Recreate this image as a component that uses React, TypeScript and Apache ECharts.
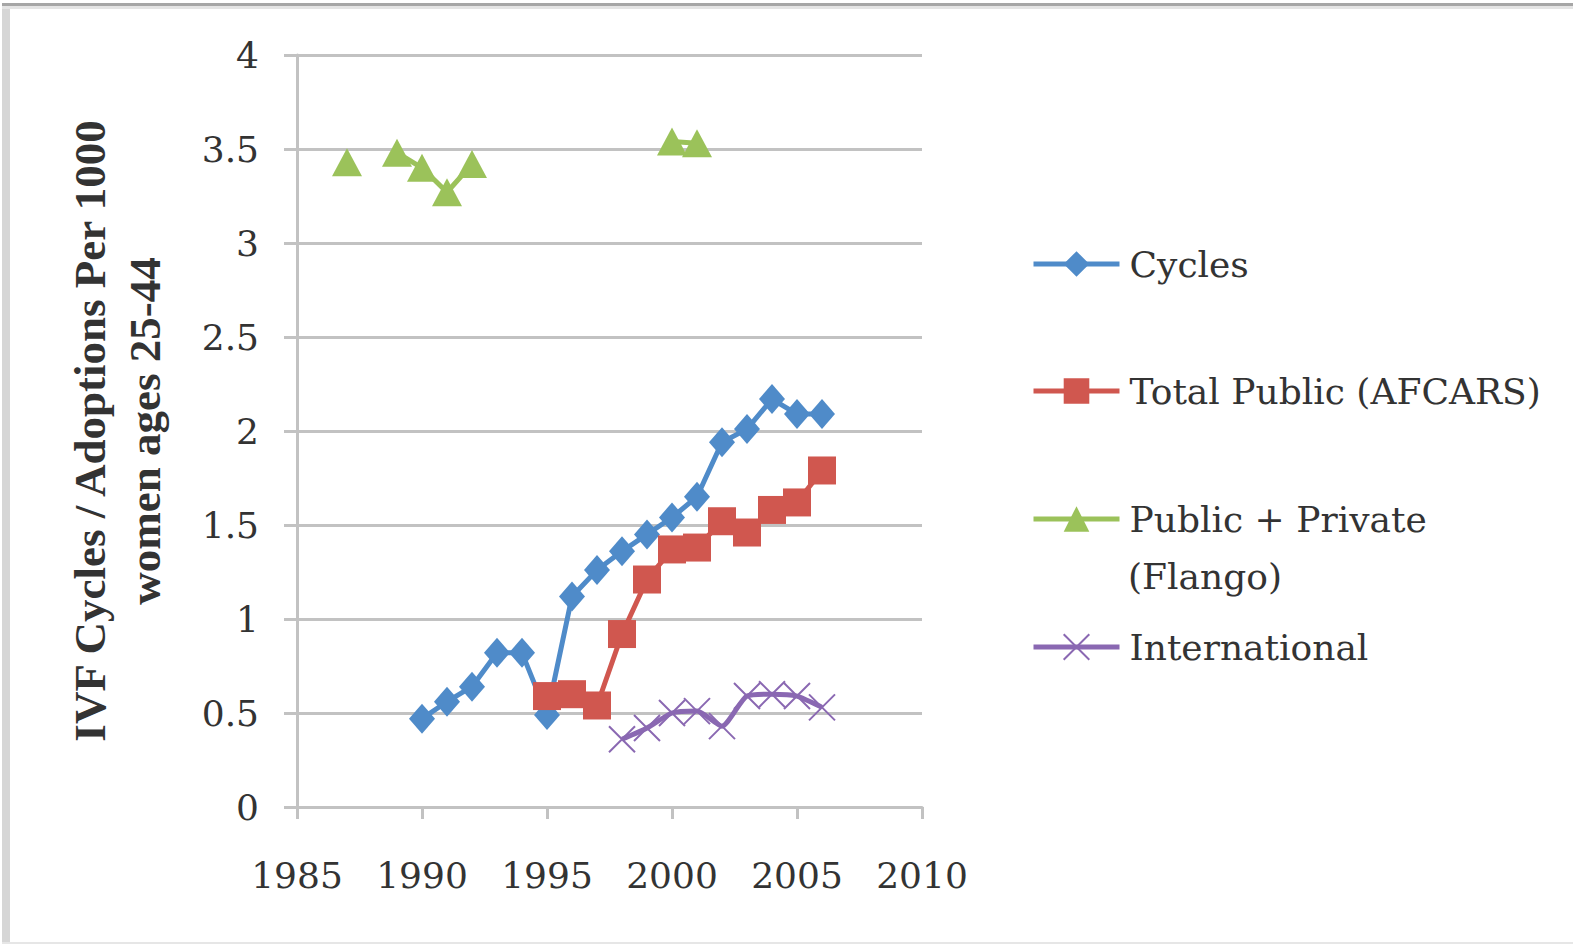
import React, { useEffect, useRef } from "react";
import * as echarts from "echarts";

const cyclesYears = [1990, 1991, 1992, 1993, 1994, 1995, 1996, 1997, 1998, 1999, 2000, 2001, 2002, 2003, 2004, 2005, 2006];
const cyclesValues = [0.47, 0.56, 0.64, 0.82, 0.82, 0.49, 1.12, 1.26, 1.36, 1.45, 1.54, 1.65, 1.94, 2.01, 2.17, 2.09, 2.09];

const publicYears = [1995, 1996, 1997, 1998, 1999, 2000, 2001, 2002, 2003, 2004, 2005, 2006];
const publicValues = [0.59, 0.6, 0.54, 0.92, 1.21, 1.37, 1.38, 1.52, 1.46, 1.58, 1.62, 1.79];

const flangoYears = [1987, 1988, 1989, 1990, 1991, 1992, 1993, 1994, 1995, 1996, 1997, 1998, 1999, 2000, 2001];
const flangoValues = [3.43, null, 3.48, 3.4, 3.27, 3.42, null, null, null, null, null, null, null, 3.54, 3.53];

const intlYears = [1998, 1999, 2000, 2001, 2002, 2003, 2004, 2005, 2006];
const intlValues = [0.36, 0.42, 0.5, 0.51, 0.43, 0.59, 0.6, 0.59, 0.53];

const xTicks = [1985, 1990, 1995, 2000, 2005, 2010];
const yTicks = [0, 0.5, 1, 1.5, 2, 2.5, 3, 3.5, 4];

const seriesNames = ["Cycles", "Total Public (AFCARS)", "Public + Private (Flango)", "International"];

const zip = (xs: number[], ys: (number | null)[]) => xs.map((x, i) => [x, ys[i]]);

const BLUE = "#4F8BC9";
const RED = "#D0574F";
const GREEN = "#9BC25A";
const PURPLE = "#8A68B2";
const TEXT = "#333333";
const GRID = "#C2C2C2";
const SERIF = '"DejaVu Serif", serif';

export default function App() {
  const ref = useRef<HTMLDivElement>(null);
  useEffect(() => {
    document.body.style.margin = "0";
    const chart = echarts.init(ref.current!, null, { renderer: "svg" });
    const legendBase = (name: string, top: number) => ({
      data: [name],
      left: 1031,
      top,
      padding: 0,
      orient: "horizontal",
      itemWidth: 86,
      itemHeight: 32,
      selectedMode: false,
      lineStyle: { width: 5 },
      formatter: (n: string) => (n === seriesNames[2] ? "Public + Private" : n),
      textStyle: {
        fontFamily: SERIF,
        fontSize: 36,
        color: TEXT,
        lineHeight: 40,
        padding: [0, 0, 0, 5],
      },
    });
    chart.setOption({
      animation: false,
      backgroundColor: "#ffffff",
      grid: { left: 297, top: 55, right: 653, bottom: 138, containLabel: false },
      xAxis: {
        type: "value",
        min: xTicks[0],
        max: xTicks[xTicks.length - 1],
        interval: 5,
        axisLine: { show: true, lineStyle: { color: GRID, width: 3 } },
        axisTick: { show: true, length: 12, lineStyle: { color: GRID, width: 3 } },
        splitLine: { show: false },
        axisLabel: {
          formatter: (v: number) => String(v),
          fontFamily: SERIF,
          fontSize: 36,
          color: TEXT,
          margin: 50,
        },
      },
      yAxis: {
        type: "value",
        min: yTicks[0],
        max: yTicks[yTicks.length - 1],
        interval: 0.5,
        name: "IVF Cycles / Adoptions Per 1000\nwomen ages 25-44",
        nameLocation: "middle",
        nameGap: 125,
        nameTextStyle: {
          fontFamily: '"Liberation Serif", serif',
          fontWeight: "bold",
          fontSize: 45,
          color: TEXT,
          lineHeight: 55,
        },
        axisLine: { show: true, lineStyle: { color: GRID, width: 3 } },
        axisTick: { show: true, length: 13, lineStyle: { color: GRID, width: 3 } },
        splitLine: { show: true, lineStyle: { color: GRID, width: 3 } },
        axisLabel: {
          fontFamily: SERIF,
          fontSize: 36,
          color: TEXT,
          margin: 38,
        },
      },
      legend: [
        legendBase(seriesNames[0], 244),
        legendBase(seriesNames[1], 371),
        legendBase(seriesNames[2], 499),
        legendBase(seriesNames[3], 627),
      ],
      graphic: [
        { type: "rect", shape: { x: 2, y: 3, width: 8, height: 940 }, style: { fill: "#D6D6D6" }, silent: true },
        { type: "rect", shape: { x: 2, y: 3, width: 1571, height: 3 }, style: { fill: "#A6A6A6" }, silent: true },
        { type: "rect", shape: { x: 2, y: 6, width: 1571, height: 3 }, style: { fill: "#E4E4E4" }, silent: true },
        { type: "rect", shape: { x: 2, y: 942, width: 1571, height: 2 }, style: { fill: "#E6E6E6" }, silent: true },
        {
          type: "text",
          x: 1128,
          y: 576,
          style: {
            text: "(Flango)",
            font: '36px "DejaVu Serif", serif',
            fill: TEXT,
            verticalAlign: "middle",
          },
        },
      ],
      series: [
        {
          name: seriesNames[0],
          type: "line",
          data: zip(cyclesYears, cyclesValues),
          symbol: "diamond",
          symbolSize: [26, 30],
          lineStyle: { color: BLUE, width: 5 },
          itemStyle: { color: BLUE },
        },
        {
          name: seriesNames[1],
          type: "line",
          data: zip(publicYears, publicValues),
          symbol: "rect",
          symbolSize: 28,
          lineStyle: { color: RED, width: 5 },
          itemStyle: { color: RED },
        },
        {
          name: seriesNames[2],
          type: "line",
          data: zip(flangoYears, flangoValues),
          connectNulls: false,
          symbol: "triangle",
          symbolSize: [30, 28],
          lineStyle: { color: GREEN, width: 5 },
          itemStyle: { color: GREEN },
        },
        {
          name: seriesNames[3],
          type: "line",
          data: zip(intlYears, intlValues),
          smooth: 0.2,
          symbol: "path://M0,0L10,10M10,0L0,10",
          symbolSize: 26,
          lineStyle: { color: PURPLE, width: 5 },
          itemStyle: { color: PURPLE, borderColor: PURPLE, borderWidth: 2 },
        },
      ],
    });
    return () => chart.dispose();
  }, []);
  return <div ref={ref} style={{ width: 1575, height: 945 }} />;
}
